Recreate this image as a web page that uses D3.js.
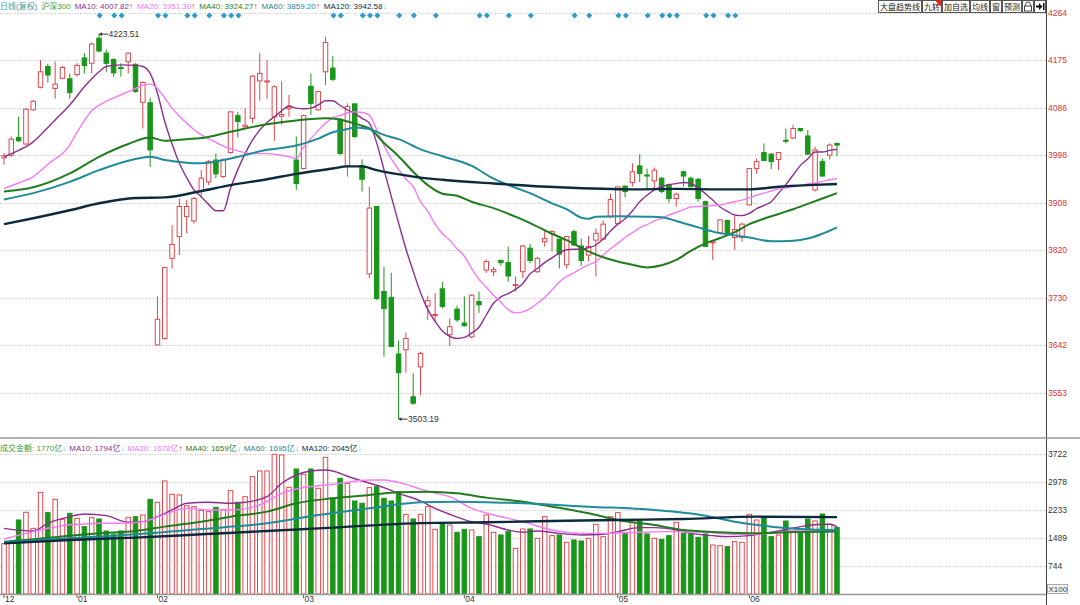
<!DOCTYPE html>
<html>
<head>
<meta charset="utf-8">
<script src="https://cdn.jsdelivr.net/npm/d3@7"></script>
<style>
  html, body { margin: 0; padding: 0; background: #fff; overflow: hidden; }
  svg { display: block; font-family: "Liberation Sans", Arial, "Noto Sans CJK SC", sans-serif; }
</style>
</head>
<body>
<script>
/*
 * 沪深300 daily K-line with moving averages and a turnover panel.
 */

/*
 * Data. Index = trading day, left to right.
 */

const opens = [
  3992, 3997, 4030, 4018, 4082, 4124, 4163, 4122, 4141, 4140,
  4148, 4179, 4169, 4216, 4188, 4176, 4161, 4172, 4167, 4096,
  4095, 3642, 3654, 3804, 3845, 3882, 3874, 3929, 3947, 3988,
  3957, 4002, 4071, 4050, 4066, 4136, 4134, 4069, 4070, 4084,
  3988, 3972, 4126, 4082, 4153, 4160, 4064, 3977, 4093, 3977,
  3775, 3901, 3742, 3731, 3625, 3633, 3545, 3601, 3715, 3697,
  3747, 3661, 3709, 3683, 3657, 3723, 3782, 3779, 3800, 3796,
  3753, 3779, 3823, 3779, 3835, 3850, 3840, 3792, 3854, 3827,
  3810, 3838, 3840, 3882, 3869, 3939, 3946, 3977, 3960, 3949,
  3954, 3942, 3916, 3966, 3954, 3952, 3910, 3833, 3852, 3875,
  3843, 3843, 3904, 3972, 4002, 3999, 3989, 4025, 4029, 4047,
  4033, 3932, 3985, 3997, 4019
];
const highs = [
  4001, 4032, 4069, 4085, 4100, 4175, 4168, 4172, 4164, 4150,
  4169, 4188, 4208, 4223.51, 4195, 4178, 4169, 4189, 4169, 4135,
  4105, 3733, 3787, 3866, 3916, 3913, 3919, 3969, 3988, 4000,
  3991, 4080, 4078, 4085, 4147, 4188, 4175, 4128, 4135, 4110,
  4032, 4073, 4150, 4117, 4219, 4183, 4067, 4094, 4094, 3989,
  3938, 3902, 3788, 3777, 3650, 3665, 3589, 3629, 3734, 3739,
  3760, 3692, 3715, 3733, 3737, 3742, 3802, 3788, 3802, 3826,
  3770, 3829, 3831, 3807, 3857, 3857, 3840, 3845, 3858, 3841,
  3846, 3860, 3875, 3925, 3938, 3941, 3982, 3999, 3972, 3974,
  3956, 3944, 3927, 3968, 3957, 3954, 3912, 3838, 3877, 3876,
  3883, 3871, 3973, 3991, 4019, 4001, 4003, 4047, 4054, 4048,
  4044, 4013, 3991, 4019, 4021
];
const lows = [
  3979, 3994, 4022, 4016, 4080, 4122, 4133, 4103, 4139, 4103,
  4144, 4150, 4150, 4189, 4153, 4144, 4144, 4150, 4114, 4047,
  3975, 3641, 3652, 3785, 3810, 3851, 3869, 3919, 3941, 3954,
  3954, 4000, 4030, 4049, 4057, 4099, 4102, 4024, 4054, 4069,
  3932, 3970, 4072, 4080, 4128, 4136, 3998, 3957, 4029, 3929,
  3767, 3726, 3620, 3638, 3503.19, 3590, 3530, 3548, 3689, 3687,
  3710, 3640, 3685, 3676, 3654, 3702, 3777, 3771, 3790, 3760,
  3742, 3767, 3795, 3777, 3826, 3817, 3785, 3785, 3827, 3790,
  3798, 3770, 3838, 3879, 3869, 3918, 3938, 3947, 3935, 3933,
  3926, 3908, 3901, 3938, 3937, 3910, 3825, 3801, 3851, 3850,
  3820, 3835, 3903, 3962, 3986, 3971, 3969, 4019, 4027, 4041,
  3998, 3929, 3957, 3989, 3995
];
const closes = [
  3996, 4027, 4024, 4083, 4098, 4153, 4147, 4130, 4161, 4114,
  4165, 4165, 4205, 4192, 4169, 4151, 4159, 4188, 4116, 4133,
  4007, 3690, 3787, 3830, 3901, 3901, 3916, 3954, 3985, 3962,
  3988, 4078, 4060, 4053, 4145, 4150, 4136, 4125, 4073, 4087,
  3944, 4071, 4094, 4116, 4208, 4139, 4000, 4088, 4032, 3952,
  3898, 3729, 3710, 3639, 3590, 3654, 3533, 3626, 3725, 3699,
  3714, 3676, 3689, 3678, 3735, 3717, 3798, 3783, 3796, 3771,
  3755, 3827, 3800, 3804, 3841, 3854, 3812, 3845, 3829, 3800,
  3826, 3851, 3868, 3914, 3938, 3929, 3966, 3963, 3958, 3969,
  3929, 3916, 3924, 3958, 3938, 3916, 3826, 3835, 3876, 3851,
  3858, 3868, 3972, 3985, 3987, 3985, 4002, 4023, 4047, 4043,
  3999, 4007, 3958, 4016, 4016
];
// turnover, 亿
const volumes = [
  1339, 1392, 1968, 2172, 1746, 2703, 2163, 2517, 1986, 2145,
  2012, 1791, 2030, 1994, 1675, 1587, 1675, 2039, 2056, 2101,
  2517, 2438, 3005, 2650, 2633, 2349, 2322, 2225, 2190, 2305,
  2251, 2748, 2438, 2588, 3120, 3271, 3271, 3714, 3696, 2836,
  3324, 3182, 3324, 2810, 3634, 2544, 3076, 2943, 2473, 2411,
  2828, 2854, 2544, 2473, 2721, 2118, 1994, 2118, 2322, 1720,
  1879, 1835, 1640, 1720, 1702, 1525, 2101, 1640, 1569, 1658,
  1214, 1729, 1729, 1480, 2056, 1551, 1569, 1374, 1436, 1410,
  1480, 1853, 1525, 2056, 2163, 1640, 1906, 1941, 1596, 1480,
  1454, 1551, 1906, 1613, 1596, 1507, 1596, 1303, 1285, 1259,
  1392, 1374, 2118, 1968, 2030, 1525, 1569, 1941, 1675, 1640,
  1994, 1941, 2127, 1853, 1770
];

// moving averages of price, [day, value]
const ma10 = [
  [0, 3994], [2, 4006], [4, 4022], [5, 4035], [7, 4063], [9, 4091], [11, 4125],
  [12, 4140], [13, 4153], [14, 4163], [16, 4166], [18, 4165], [19, 4163], [20, 4150],
  [21, 4113], [22, 4060], [23, 4018], [24, 3982], [25, 3955], [26, 3932], [27, 3919],
  [28, 3905], [29, 3893], [30, 3893], [31, 3935], [32, 3970], [33, 4000], [34, 4025],
  [35, 4044], [36, 4058], [37, 4069], [38, 4080], [39, 4089], [40, 4085], [41, 4084],
  [42, 4085], [43, 4091], [44, 4099], [45, 4099], [46, 4090], [47, 4082], [48, 4075],
  [49, 4066], [50, 4057], [51, 4020], [52, 3970], [53, 3920], [54, 3870], [55, 3822],
  [56, 3780], [57, 3740], [58, 3708], [59, 3686], [60, 3668], [61, 3658], [62, 3654],
  [63, 3656], [64, 3664], [65, 3675], [66, 3698], [67, 3720], [68, 3732], [69, 3738],
  [70, 3746], [71, 3757], [72, 3775], [73, 3785], [74, 3796], [75, 3805], [76, 3814],
  [77, 3820], [78, 3821], [79, 3821], [80, 3824], [81, 3829], [82, 3840], [83, 3855],
  [84, 3868], [85, 3878], [86, 3893], [87, 3910], [88, 3922], [89, 3932], [90, 3938],
  [91, 3942], [92, 3944], [93, 3946], [94, 3944], [95, 3936], [96, 3925], [97, 3913],
  [98, 3900], [99, 3892], [100, 3885], [101, 3884], [102, 3888], [103, 3897], [104, 3903],
  [105, 3910], [106, 3926], [107, 3942], [108, 3960], [109, 3978], [110, 3990], [111, 4003],
  [112, 4003], [113, 4006], [114, 4008]
];
const ma20 = [
  [0, 3935], [2, 3945], [4, 3957], [6, 3980], [9, 4016], [10, 4040], [12, 4080],
  [14, 4098], [16, 4110], [18, 4122], [19, 4128], [20, 4130], [21, 4122], [22, 4104],
  [23, 4085], [24, 4070], [25, 4057], [26, 4045], [27, 4035], [28, 4028], [30, 4014],
  [32, 4005], [34, 4000], [36, 4000], [38, 3997], [39, 3994], [40, 3991], [41, 4012],
  [42, 4028], [43, 4043], [44, 4057], [45, 4067], [46, 4071], [47, 4076], [48, 4078],
  [49, 4077], [50, 4072], [51, 4045], [52, 4015], [53, 3990], [54, 3970], [55, 3952],
  [56, 3938], [57, 3910], [58, 3892], [59, 3868], [60, 3850], [61, 3838], [62, 3822],
  [63, 3808], [64, 3785], [65, 3765], [66, 3750], [67, 3735], [68, 3722], [69, 3708],
  [70, 3702], [71, 3704], [72, 3710], [73, 3720], [74, 3731], [75, 3745], [76, 3760],
  [77, 3770], [78, 3777], [79, 3785], [80, 3792], [81, 3798], [82, 3810], [83, 3822],
  [84, 3832], [85, 3843], [86, 3852], [87, 3861], [88, 3867], [89, 3874], [90, 3879],
  [91, 3885], [92, 3890], [93, 3895], [94, 3900], [95, 3901], [96, 3902], [97, 3903],
  [98, 3904], [99, 3907], [100, 3910], [101, 3913], [102, 3917], [103, 3922], [104, 3926],
  [105, 3930], [106, 3934], [107, 3936], [108, 3938], [109, 3940], [110, 3943], [111, 3945],
  [112, 3948], [113, 3951], [114, 3953]
];
const ma40 = [
  [0, 3929], [4, 3937], [9, 3963], [13, 3994], [17, 4018], [20, 4030], [22, 4024],
  [25, 4027], [27, 4029], [31, 4041], [36, 4055], [40, 4062], [44, 4066], [46, 4064],
  [47, 4060], [49, 4052], [50, 4047], [52, 4020], [54, 3995], [56, 3966], [58, 3941],
  [60, 3925], [62, 3921], [64, 3910], [67, 3898], [70, 3882], [72, 3870], [75, 3850],
  [77, 3838], [80, 3817], [82, 3806], [84, 3798], [86, 3792], [88, 3787], [90, 3791],
  [92, 3801], [94, 3818], [96, 3832], [98, 3842], [100, 3853], [102, 3868], [104, 3878],
  [106, 3887], [108, 3896], [110, 3906], [112, 3916], [114, 3926]
];
const ma60 = [
  [0, 3914], [4, 3926], [9, 3947], [13, 3969], [18, 3990], [20, 3994], [22, 3988],
  [25, 3983], [27, 3982], [31, 3991], [36, 4007], [40, 4015], [43, 4028], [45, 4040],
  [47, 4046], [48, 4049], [50, 4046], [52, 4035], [54, 4027], [57, 4008], [60, 3995],
  [64, 3977], [67, 3953], [70, 3936], [72, 3926], [75, 3907], [77, 3896], [79, 3880],
  [80, 3878], [81, 3882], [84, 3883], [88, 3882], [90, 3881], [92, 3874], [95, 3862],
  [97, 3854], [100, 3847], [102, 3843], [105, 3836], [108, 3837], [110, 3841], [112, 3850],
  [114, 3862]
];
const ma120 = [
  [0, 3868], [4, 3879], [9, 3894], [13, 3907], [18, 3917], [22, 3918], [27, 3930],
  [31, 3941], [36, 3952], [40, 3962], [45, 3972], [47, 3976], [49, 3976], [51, 3969],
  [56, 3957], [60, 3951], [67, 3944], [76, 3937], [86, 3933], [92, 3934], [98, 3933],
  [102, 3933], [106, 3938], [110, 3941], [114, 3943]
];

// moving averages of turnover, [day, value]
const vma10 = [
  [0, 1746], [4, 1675], [6, 1879], [9, 2056], [11, 2127], [14, 2083], [17, 1906],
  [19, 1923], [21, 2056], [23, 2234], [25, 2411], [28, 2438], [31, 2411], [33, 2438],
  [36, 2588], [38, 2943], [40, 3164], [42, 3270], [44, 3297], [45, 3271], [47, 3130],
  [49, 3005], [52, 2828], [54, 2677], [57, 2473], [59, 2278], [61, 2120], [64, 1923],
  [66, 1861], [69, 1702], [71, 1640], [73, 1675], [76, 1613], [79, 1569], [82, 1587],
  [84, 1658], [87, 1764], [89, 1764], [92, 1702], [94, 1613], [97, 1551], [99, 1525],
  [102, 1551], [104, 1613], [106, 1675], [109, 1791], [112, 1853], [113, 1853], [114, 1794]
];
const vma20 = [
  [0, 1463], [4, 1658], [9, 1840], [11, 1861], [13, 1879], [16, 1879], [19, 1923],
  [22, 2118], [25, 2278], [28, 2234], [31, 2234], [35, 2367], [38, 2677], [40, 2792],
  [45, 2916], [50, 3031], [52, 3031], [55, 2916], [57, 2790], [59, 2680], [61, 2588],
  [64, 2278], [67, 2101], [71, 1923], [75, 1702], [79, 1613], [82, 1613], [87, 1640],
  [91, 1658], [96, 1640], [100, 1587], [105, 1613], [109, 1702], [114, 1678]
];
const vma40 = [
  [0, 1392], [4, 1454], [9, 1551], [13, 1613], [18, 1675], [22, 1791], [27, 1923],
  [31, 2056], [36, 2190], [40, 2411], [45, 2544], [50, 2633], [54, 2703], [58, 2721],
  [62, 2677], [66, 2562], [71, 2455], [75, 2322], [80, 2145], [84, 1968], [89, 1835],
  [93, 1702], [98, 1640], [103, 1613], [107, 1640], [114, 1659]
];
const vma60 = [
  [0, 1374], [9, 1480], [18, 1587], [27, 1729], [36, 1879], [43, 2101], [50, 2278],
  [57, 2438], [62, 2455], [71, 2411], [80, 2322], [89, 2234], [96, 2083], [100, 1923],
  [105, 1791], [109, 1729], [114, 1695]
];
const vma120 = [
  [0, 1347], [9, 1436], [18, 1498], [27, 1587], [36, 1675], [45, 1764], [57, 1885],
  [66, 1906], [75, 1941], [84, 1968], [93, 1994], [103, 2056], [114, 2045]
];

// days carrying a signal marker along the top
const signalDays = [
  13, 15, 16, 21, 22, 25, 26, 28, 30, 31, 32, 45, 46, 49, 50, 51, 54, 56,
  59, 65, 66, 69, 72, 78, 80, 84, 85, 88, 90, 91, 92, 96, 97, 99, 100
];

// axes
const priceTicks = [4264, 4175, 4086, 3998, 3908, 3820, 3730, 3642, 3553];
const volumeTicks = [3722, 2978, 2233, 1489, 744];
const monthDays = [0, 10, 21, 41, 63, 84, 102];
const monthLabels = ['12', '01', '02', '03', '04', '05', '06'];

// legend texts
const maNames = ['MA10', 'MA20', 'MA40', 'MA60', 'MA120'];
const maLast = ['4007.82', '3951.30', '3924.27', '3859.20', '3942.58'];
const maTrend = ['up', 'up', 'up', 'up', 'down'];
const volLast = '1770';
const volTrend = 'down';
const vmaLast = ['1794', '1678', '1659', '1695', '2045'];
const vmaTrend = ['down', 'up', 'down', 'down', 'down'];
const toolButtons = ['大盘趋势线', '九转', '加自选', '均线', '窗', '预测'];

/*
 * Layout and colours.
 */

const CANVAS_WIDTH = 1080;
const CANVAS_HEIGHT = 605;
const AXIS_X = 1046;
const SEPARATOR_Y = 438;
const VOLUME_BASE = 594;

const UP_COLOR = '#e0474c';
const DOWN_COLOR = '#1a961a';
const GRID_COLOR = '#c4c4c4';
const MA_COLORS = ['#8e2f8e', '#f77af7', '#1f7c1f', '#1f8b9b', '#0c2a3e'];
const MA_WIDTHS = [1.4, 1.4, 2, 2, 2.4];

/*
 * Scales.
 */

const xScale = d3.scaleBand()
    .domain(d3.range(opens.length))
    .range([0.35, 840.65])
    .paddingInner(0.25)
    .paddingOuter(0.125);

const xCenter = i => xScale(i) + xScale.bandwidth() / 2;

const yPrice = d3.scaleLinear()
    .domain([3553, 4264])
    .range([392.5, 12.5]);

const yVolume = d3.scaleLinear()
    .domain([0, 3722])
    .range([VOLUME_BASE, 454]);

const svg = d3.select('body')
  .append('svg')
    .attr('width', CANVAS_WIDTH)
    .attr('height', CANVAS_HEIGHT);

/*
 * Dotted grid lines for a panel.
 */

const addGrid = (scale, ticks) => {
  svg.append('g')
    .selectAll('line')
    .data(ticks)
    .enter()
    .append('line')
      .attr('x1', 0)
      .attr('x2', AXIS_X)
      .attr('y1', d => Math.round(scale(d)) + 0.5)
      .attr('y2', d => Math.round(scale(d)) + 0.5)
      .attr('stroke', GRID_COLOR)
      .attr('stroke-dasharray', '1,1.5');
};

/*
 * Candles.
 */

const addCandles = () => {
  const days = d3.range(opens.length);
  const isUp = i => closes[i] >= opens[i];
  const g = svg.append('g').attr('id', 'candles');

  g.selectAll('line')
    .data(days)
    .enter()
    .append('line')
      .attr('x1', xCenter)
      .attr('x2', xCenter)
      .attr('y1', i => yPrice(highs[i]))
      .attr('y2', i => yPrice(lows[i]))
      .attr('stroke', i => isUp(i) ? UP_COLOR : DOWN_COLOR)
      .attr('stroke-width', 1);

  g.selectAll('rect')
    .data(days)
    .enter()
    .append('rect')
      .attr('x', i => xScale(i) + 0.5)
      .attr('width', xScale.bandwidth() - 1)
      .attr('y', i => yPrice(Math.max(opens[i], closes[i])))
      .attr('height', i => Math.max(1, Math.abs(yPrice(opens[i]) - yPrice(closes[i]))))
      .attr('fill', i => isUp(i) ? '#fff' : DOWN_COLOR)
      .attr('stroke', i => isUp(i) ? UP_COLOR : DOWN_COLOR)
      .attr('stroke-width', 1);
};

/*
 * Turnover bars.
 */

const addVolumes = () => {
  svg.append('g')
      .attr('id', 'volumes')
    .selectAll('rect')
    .data(volumes)
    .enter()
    .append('rect')
      .attr('x', (d, i) => xScale(i) + 0.5)
      .attr('width', xScale.bandwidth() - 1)
      .attr('y', d => yVolume(d))
      .attr('height', d => VOLUME_BASE - yVolume(d))
      .attr('fill', (d, i) => closes[i] >= opens[i] ? '#fff' : DOWN_COLOR)
      .attr('stroke', (d, i) => closes[i] >= opens[i] ? UP_COLOR : DOWN_COLOR);
};

/*
 * Moving-average lines.
 */

const addLines = (series, yScale) => {
  const line = d3.line()
      .x(d => xCenter(d[0]))
      .y(d => yScale(d[1]))
      .curve(d3.curveMonotoneX);

  svg.append('g')
    .selectAll('path')
    .data(series)
    .enter()
    .append('path')
      .attr('d', line)
      .attr('fill', 'none')
      .attr('stroke', (d, i) => MA_COLORS[i])
      .attr('stroke-width', (d, i) => MA_WIDTHS[i])
      .attr('stroke-linejoin', 'round');
};

/*
 * Axes: price and turnover on the right, months along the bottom.
 */

const addAxes = () => {
  const priceAxis = d3.axisRight(yPrice)
      .tickValues(priceTicks)
      .tickFormat(d3.format('d'))
      .tickSize(0)
      .tickPadding(2);

  svg.append('g')
      .attr('transform', `translate(${AXIS_X}, 0)`)
      .call(priceAxis)
      .call(g => g.select('.domain').remove())
      .call(g => g.selectAll('text')
        .attr('fill', '#d93333')
        .attr('font-size', 8.5)
        .attr('font-family', '"Liberation Sans", Arial, sans-serif'));

  const volumeAxis = d3.axisRight(yVolume)
      .tickValues(volumeTicks)
      .tickFormat(d3.format('d'))
      .tickSize(0)
      .tickPadding(2);

  svg.append('g')
      .attr('transform', `translate(${AXIS_X}, 0)`)
      .call(volumeAxis)
      .call(g => g.select('.domain').remove())
      .call(g => g.selectAll('text')
        .attr('fill', '#333')
        .attr('font-size', 8.5)
        .attr('font-family', '"Liberation Sans", Arial, sans-serif'));

  const monthAxis = d3.axisBottom(xScale)
      .tickValues(monthDays)
      .tickFormat((d, i) => monthLabels[i])
      .tickSize(4)
      .tickPadding(-2);

  svg.append('g')
      .attr('transform', `translate(0, ${VOLUME_BASE})`)
      .call(monthAxis)
      .call(g => g.select('.domain').remove())
      .call(g => g.selectAll('line').attr('stroke', '#555'))
      .call(g => g.selectAll('text')
        .attr('text-anchor', 'start')
        .attr('x', 1)
        .attr('fill', '#333')
        .attr('font-size', 8.5)
        .attr('font-family', '"Liberation Sans", Arial, sans-serif'));

  // frame lines
  svg.append('line')
      .attr('x1', AXIS_X + 0.5).attr('x2', AXIS_X + 0.5)
      .attr('y1', 0).attr('y2', CANVAS_HEIGHT)
      .attr('stroke', '#444');

  svg.append('line')
      .attr('x1', 0).attr('x2', CANVAS_WIDTH)
      .attr('y1', SEPARATOR_Y).attr('y2', SEPARATOR_Y)
      .attr('stroke', '#999')
      .attr('stroke-width', 1.5);

  svg.append('line')
      .attr('x1', 0).attr('x2', AXIS_X)
      .attr('y1', VOLUME_BASE + 0.5).attr('y2', VOLUME_BASE + 0.5)
      .attr('stroke', '#999')
      .attr('stroke-width', 1.5);

  // X100 unit box
  svg.append('rect')
      .attr('x', AXIS_X + 1.5).attr('y', 584.5)
      .attr('width', 20).attr('height', 9)
      .attr('fill', '#f4f4f4')
      .attr('stroke', '#aaa');
  svg.append('text')
      .attr('x', AXIS_X + 2.5).attr('y', 592)
      .attr('font-size', 8)
      .attr('fill', '#444')
      .text('X100');
};

/*
 * Legends above each panel.
 */

const arrowOf = t => t === 'up' ? '↑' : '↓';
const arrowColor = t => t === 'up' ? '#e33' : '#38c8d8';

const addLegends = () => {
  const top = svg.append('text')
      .attr('x', 0)
      .attr('y', 8.5)
      .attr('font-size', 8);

  top.append('tspan').attr('fill', '#3a9ea4').text('日线(复权)');
  top.append('tspan').attr('dx', 4).attr('fill', '#3a9a3a').text('沪深300');
  maNames.forEach((name, i) => {
    top.append('tspan').attr('dx', 4).attr('fill', MA_COLORS[i]).text(`${name}: ${maLast[i]}`);
    top.append('tspan').attr('fill', arrowColor(maTrend[i])).text(arrowOf(maTrend[i]));
  });

  const bottom = svg.append('text')
      .attr('x', 0)
      .attr('y', 451)
      .attr('font-size', 8);

  bottom.append('tspan').attr('fill', '#3a9a3a').text(`成交金额: ${volLast}亿`);
  bottom.append('tspan').attr('fill', arrowColor(volTrend)).text(arrowOf(volTrend));
  maNames.forEach((name, i) => {
    bottom.append('tspan').attr('dx', 3).attr('fill', MA_COLORS[i]).text(`${name}: ${vmaLast[i]}亿`);
    bottom.append('tspan').attr('fill', arrowColor(vmaTrend[i])).text(arrowOf(vmaTrend[i]));
  });
};

/*
 * Tool buttons in the top right corner.
 */

const addButtons = () => {
  const widths = toolButtons.map(b => b.length * 8 + 4);
  const iconW = 12;
  let x = AXIS_X - iconW * 2 - d3.sum(widths);
  const g = svg.append('g').attr('id', 'buttons');

  toolButtons.forEach((label, i) => {
    g.append('rect')
        .attr('x', x + 0.5).attr('y', 0.5)
        .attr('width', widths[i] - 1).attr('height', 12)
        .attr('fill', '#fff')
        .attr('stroke', '#555');
    g.append('text')
        .attr('x', x + widths[i] / 2).attr('y', 9.5)
        .attr('text-anchor', 'middle')
        .attr('font-size', 8)
        .attr('font-family', '"Noto Sans CJK SC", sans-serif')
        .attr('fill', '#222')
        .text(label);
    if (label === '九转') {
      const r = x + widths[i] - 1;
      g.append('path')
          .attr('d', `M${r - 6},0.5L${r},0.5L${r},6.5Z`)
          .attr('fill', '#e22');
    }
    x += widths[i];
  });

  // lock
  g.append('rect')
      .attr('x', x + 0.5).attr('y', 0.5)
      .attr('width', iconW - 1).attr('height', 12)
      .attr('fill', '#fff').attr('stroke', '#555');
  g.append('path')
      .attr('d', `M${x + 3.5},6V4.5a2.5,2.5 0 0 1 5,0V6`)
      .attr('fill', 'none').attr('stroke', '#444');
  g.append('rect')
      .attr('x', x + 2.5).attr('y', 6)
      .attr('width', 7).attr('height', 5)
      .attr('fill', '#fff').attr('stroke', '#444');
  x += iconW;

  // collapse arrow
  g.append('rect')
      .attr('x', x + 0.5).attr('y', 0.5)
      .attr('width', iconW - 1).attr('height', 12)
      .attr('fill', '#fff').attr('stroke', '#555');
  g.append('path')
      .attr('d', `M${x + 2},5.5H${x + 5}V3L${x + 8.5},6.5L${x + 5},10V7.5H${x + 2}Z`)
      .attr('fill', '#111');
  g.append('rect')
      .attr('x', x + 9).attr('y', 3)
      .attr('width', 1.5).attr('height', 7)
      .attr('fill', '#111');
};

/*
 * Signal diamonds and high / low labels.
 */

const addMarks = () => {
  svg.append('g')
    .selectAll('path')
    .data(signalDays)
    .enter()
    .append('path')
      .attr('d', d => {
        const cx = xCenter(d) + 0.7;
        const cy = 15.5;
        return `M${cx},${cy - 3}L${cx + 3},${cy}L${cx},${cy + 3}L${cx - 3},${cy}Z`;
      })
      .attr('fill', '#2c9bcf');

  const extremes = [
    { day: d3.maxIndex(highs), value: d3.max(highs) },
    { day: d3.minIndex(lows), value: d3.min(lows) }
  ];

  extremes.forEach(e => {
    const x = xCenter(e.day);
    const y = yPrice(e.value);
    svg.append('line')
        .attr('x1', x).attr('x2', x + 9)
        .attr('y1', y).attr('y2', y)
        .attr('stroke', '#333');
    svg.append('path')
        .attr('d', `M${x},${y}L${x + 3},${y - 1.8}L${x + 3},${y + 1.8}Z`)
        .attr('fill', '#333');
    svg.append('text')
        .attr('x', x + 9.5).attr('y', y + 3)
        .attr('font-size', 8.5)
        .attr('fill', '#333')
        .text(d3.format('.2f')(e.value));
  });
};

/*
 * Draw everything.
 */

addGrid(yPrice, priceTicks);
addGrid(yVolume, volumeTicks);
addCandles();
addLines([ma10, ma20, ma40, ma60, ma120], yPrice);
addVolumes();
addLines([vma10, vma20, vma40, vma60, vma120], yVolume);
addAxes();
addLegends();
addButtons();
addMarks();
</script>
</body>
</html>
